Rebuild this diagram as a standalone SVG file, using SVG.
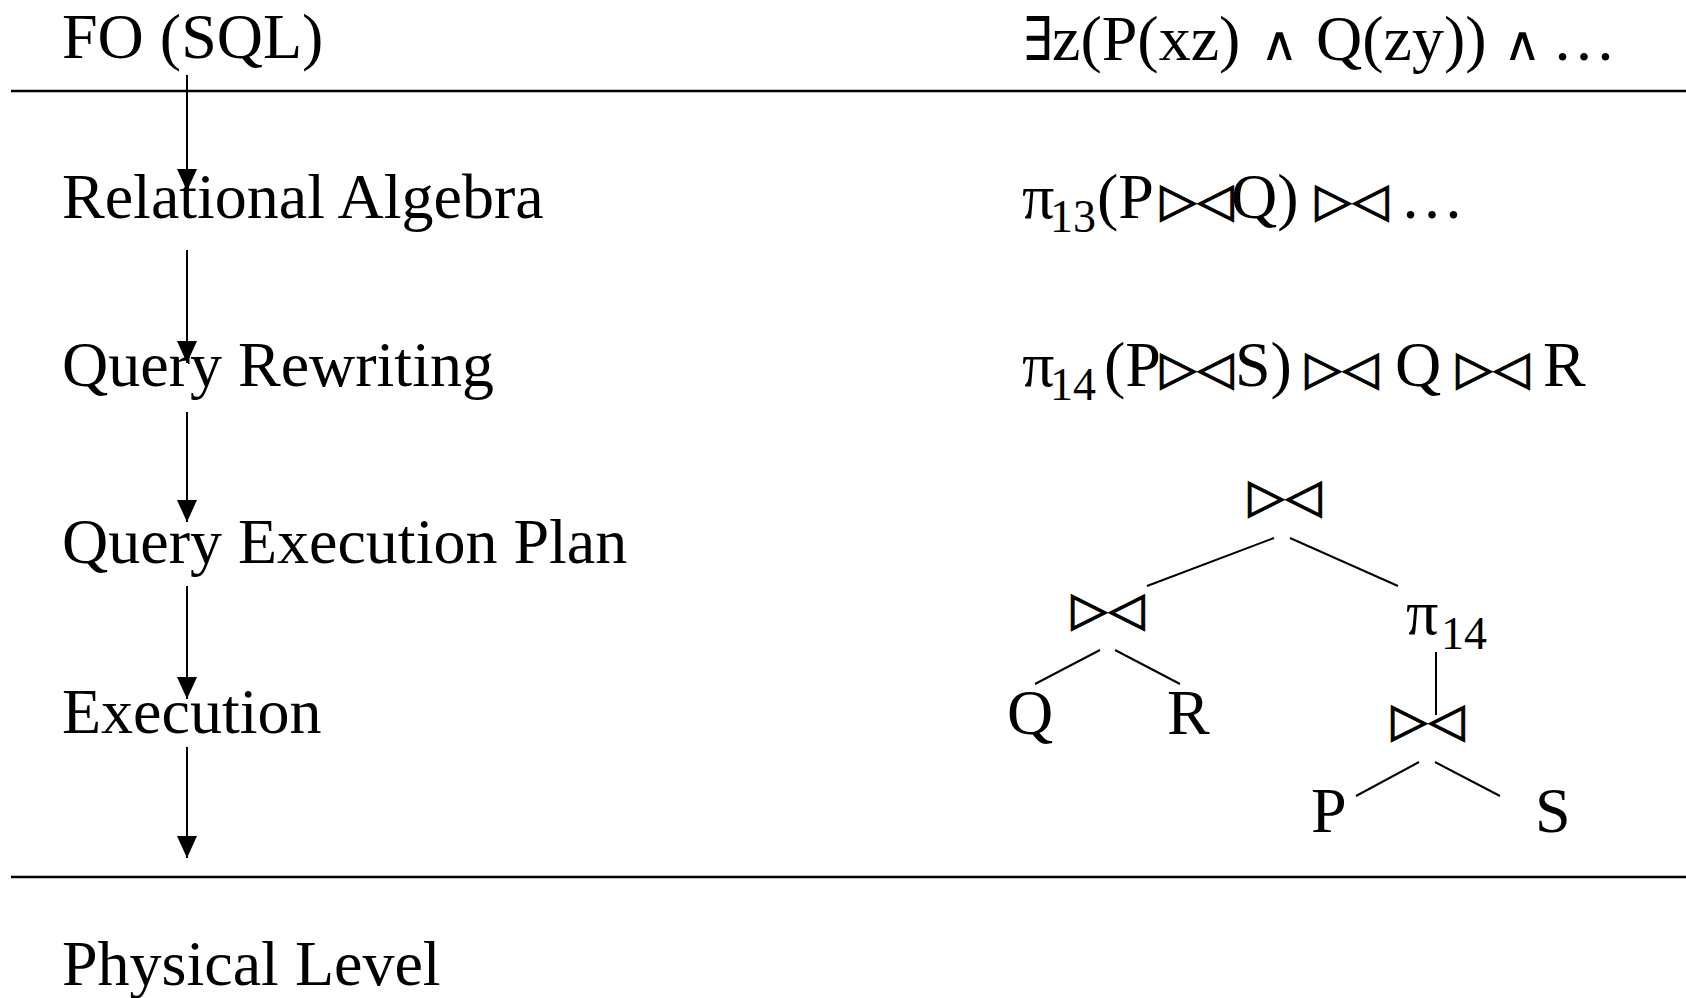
<svg xmlns="http://www.w3.org/2000/svg" width="1686" height="998" viewBox="0 0 1686 998">
<defs>
<style>
.t{font-family:"Liberation Serif","Times New Roman",serif;font-size:64px;fill:#000}
.sub{font-size:46px}
.sym{font-family:"DejaVu Sans",sans-serif;fill:#000}
.bt{font-family:"DejaVu Sans",sans-serif;font-size:47px;text-anchor:middle;fill:#000;stroke:#000;stroke-width:1.2}
.rule{stroke:#000;stroke-width:2.5;fill:none}
.ln{stroke:#000;stroke-width:2;fill:none}
.arr{stroke:#000;stroke-width:2;fill:none;marker-end:url(#ah)}
</style>
<marker id="ah" viewBox="0 0 22 20" refX="22" refY="10" markerWidth="22" markerHeight="20" markerUnits="userSpaceOnUse" orient="auto">
<path d="M0,0 L22,10 L0,20 Z" fill="#000"/>
</marker>
</defs>
<rect width="1686" height="998" fill="#fff"/>
<g id="rules">
<line class="rule" x1="11" y1="91" x2="1686" y2="91"/>
<line class="rule" x1="11" y1="877" x2="1686" y2="877"/>
</g>
<g id="n-fo"><text class="t" x="62" y="58">FO (SQL)</text></g>
<g id="n-ra"><text class="t" x="62" y="218">Relational Algebra</text></g>
<g id="n-qr"><text class="t" x="62" y="386">Query Rewriting</text></g>
<g id="n-qep"><text class="t" x="62" y="563">Query Execution Plan</text></g>
<g id="n-ex"><text class="t" x="62" y="733">Execution</text></g>
<g id="n-pl"><text class="t" x="62" y="985">Physical Level</text></g>
<g id="connectors">
<line class="arr" x1="187" y1="75" x2="187" y2="191"/>
<line class="arr" x1="187" y1="250" x2="187" y2="363"/>
<line class="arr" x1="187" y1="412" x2="187" y2="522"/>
<line class="arr" x1="187" y1="586" x2="187" y2="699"/>
<line class="arr" x1="187" y1="747" x2="187" y2="858"/>
</g>
<g id="f-fo">
<text class="sym" font-size="60" transform="translate(1022,60) scale(0.8,1)">∃</text>
<text class="t" y="60"><tspan x="1052">z(P(xz)</tspan><tspan x="1316">Q(zy))</tspan><tspan x="1552">…</tspan></text>
<text class="sym" font-size="48" transform="translate(1260,60) scale(1.1,1)">∧</text>
<text class="sym" font-size="48" transform="translate(1503,60) scale(1.1,1)">∧</text>
</g>
<g id="f-ra">
<text class="t" y="218"><tspan x="1022">π</tspan><tspan class="sub" x="1050" y="232">13</tspan><tspan x="1097" y="218">(P</tspan><tspan x="1231">Q)</tspan><tspan x="1400">…</tspan></text>
<text class="bt" x="1197" y="216">▷<tspan dx="1">◁</tspan></text>
<text class="bt" x="1352" y="216">▷<tspan dx="1">◁</tspan></text>
</g>
<g id="f-qr">
<text class="t" y="386"><tspan x="1022">π</tspan><tspan class="sub" x="1050" y="400">14</tspan><tspan x="1104" y="386">(P</tspan><tspan x="1235">S)</tspan><tspan x="1395">Q</tspan><tspan x="1543">R</tspan></text>
<text class="bt" x="1197" y="384">▷<tspan dx="1">◁</tspan></text>
<text class="bt" x="1342" y="384">▷<tspan dx="1">◁</tspan></text>
<text class="bt" x="1493" y="384">▷<tspan dx="1">◁</tspan></text>
</g>
<g id="tree-edges">
<line class="ln" x1="1274" y1="538" x2="1147" y2="586"/>
<line class="ln" x1="1290" y1="538" x2="1398" y2="586"/>
<line class="ln" x1="1100" y1="650" x2="1035" y2="684"/>
<line class="ln" x1="1115" y1="650" x2="1180" y2="684"/>
<line class="ln" x1="1436" y1="652" x2="1436" y2="715"/>
<line class="ln" x1="1419" y1="762" x2="1356" y2="796"/>
<line class="ln" x1="1435" y1="762" x2="1500" y2="796"/>
</g>
<g id="t-root"><text class="bt" x="1285" y="512">▷<tspan dx="1">◁</tspan></text></g>
<g id="t-join1"><text class="bt" x="1108" y="625">▷<tspan dx="1">◁</tspan></text></g>
<g id="t-proj"><text class="t" x="1406" y="634">π<tspan class="sub" x="1441" y="649">14</tspan></text></g>
<g id="t-join2"><text class="bt" x="1428" y="736">▷<tspan dx="1">◁</tspan></text></g>
<g id="t-q"><text class="t" x="1007" y="734">Q</text></g>
<g id="t-r"><text class="t" x="1167" y="734">R</text></g>
<g id="t-p"><text class="t" x="1311" y="832">P</text></g>
<g id="t-s"><text class="t" x="1535" y="832">S</text></g>
</svg>
